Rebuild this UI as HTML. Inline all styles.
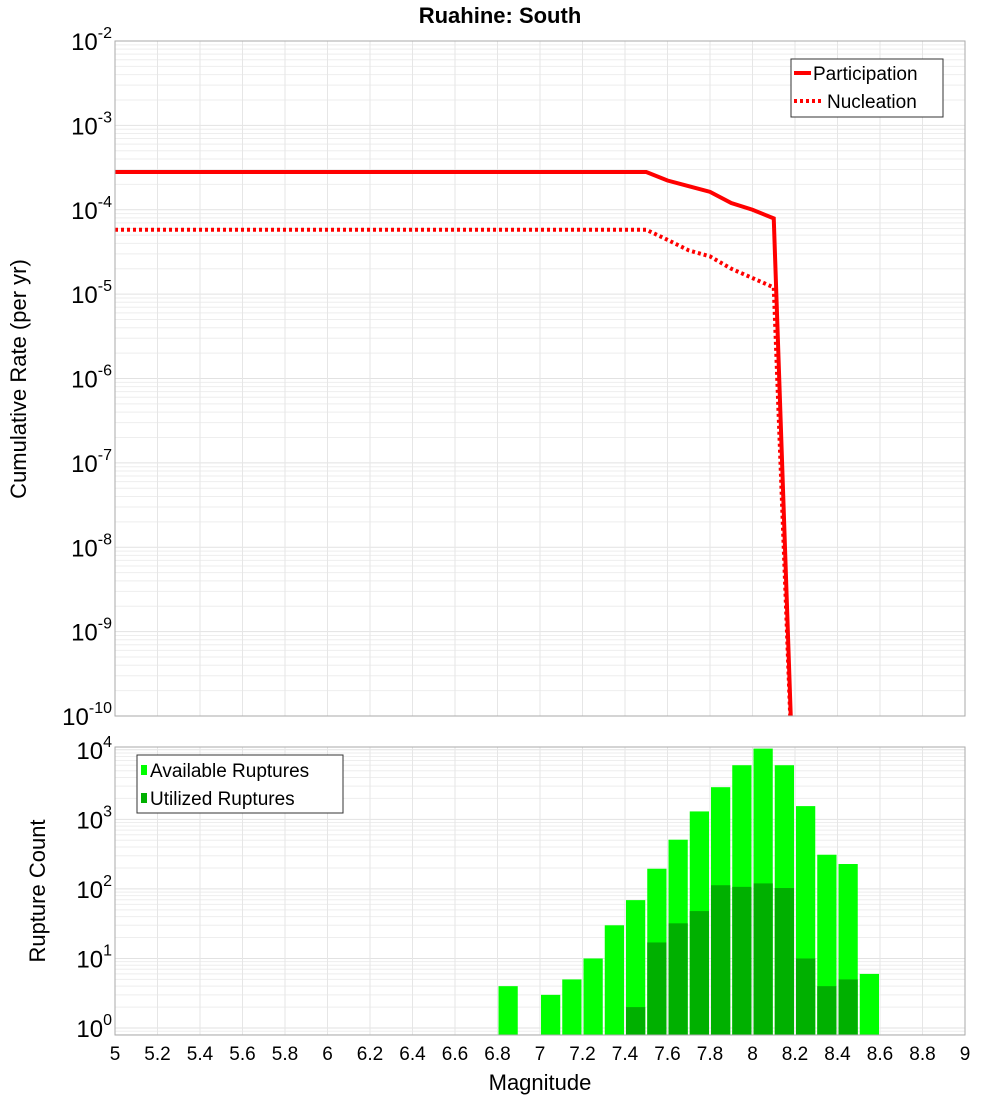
<!DOCTYPE html>
<html><head><meta charset="utf-8"><style>
body{margin:0;background:#fff;width:1000px;height:1100px;overflow:hidden}
svg{font-family:"Liberation Sans","DejaVu Sans",sans-serif}
</style></head><body>
<svg id="c" width="1000" height="1100" xmlns="http://www.w3.org/2000/svg"></svg>
<script>
const mags=[5,7.5,7.6,7.7,7.8,7.9,8.0,8.1,8.2];
const participation=[2.8e-4,2.8e-4,2.22e-4,1.9e-4,1.63e-4,1.2e-4,1.0e-4,7.9e-5,3.3e-12];
const nucleation=[5.8e-5,5.8e-5,4.4e-5,3.3e-5,2.8e-5,2.0e-5,1.55e-5,1.2e-5,3.3e-12];
const binCenters=[6.85,7.05,7.15,7.25,7.35,7.45,7.55,7.65,7.75,7.85,7.95,8.05,8.15,8.25,8.35,8.45,8.55];
const available=[4,3,5,10,30,69,195,510,1300,2900,6000,10400,6000,1550,310,228,6];
const utilized=[0,0,0,0,0,2,17,32,48,113,107,120,103,10,4,5,0];
const xTicks=["5","5.2","5.4","5.6","5.8","6","6.2","6.4","6.6","6.8","7","7.2","7.4","7.6","7.8","8","8.2","8.4","8.6","8.8","9"];

const NS="http://www.w3.org/2000/svg",svg=document.getElementById('c');
function el(t,a,p){const e=document.createElementNS(NS,t);for(const k in a)e.setAttribute(k,a[k]);(p||svg).appendChild(e);return e;}
const L=115,R=965,T1=41,B1=716,T2=747,B2=1035;
const x=m=>L+(m-5)/4*(R-L);
const y1=v=>T1+(-2-Math.log10(v))/8*(B1-T1);
const y2=v=>B2-(Math.log10(v)+0.1)/4.14*(B2-T2);

// title
let t=el('text',{x:500,y:23,'text-anchor':'middle','font-size':22,'font-weight':'bold'});t.textContent='Ruahine: South';


function grid(top,bot,yf,lo,hi){
  const g=el('g',{});
  for(let d=lo;d<hi;d++)for(let k=1;k<10;k++){const v=k*Math.pow(10,d);const yy=yf(v);if(yy<top-0.5||yy>bot+0.5)continue;
    el('line',{x1:L,x2:R,y1:yy,y2:yy,stroke:k==1?'#e2e2e2':'#eeeeee','stroke-width':1},g);}
  for(let i=0;i<=20;i++){const xx=x(5+i*0.2);el('line',{x1:xx,x2:xx,y1:top,y2:bot,stroke:'#e6e6e6'},g);}
  return g;
}
let g1=grid(T1,B1,y1,-10,-1);
let g2=grid(T2,B2,y2,-1,5);

// top lines
const clip=el('clipPath',{id:'cp'});el('rect',{x:L,y:T1,width:R-L,height:B1-T1},clip);
function line(vals,dash,name){const p=el('polyline',{points:mags.map((m,i)=>x(m)+','+y1(vals[i])).join(' '),fill:'none',stroke:'#ff0000','stroke-width':4,'clip-path':'url(#cp)'});
  if(dash)p.setAttribute('stroke-dasharray','3,3');
  }
line(nucleation,true,'nucleation-line');
line(participation,false,'participation-line');

// bars
const bw=x(5.1)-x(5);
binCenters.forEach((c,i)=>{
  const b=el('rect',{x:x(c)-bw/2+1,y:y2(available[i]),width:bw-2,height:B2-y2(available[i]),fill:'#00ff00'});
  
  if(utilized[i]>0){const u=el('rect',{x:x(c)-bw/2+1,y:y2(utilized[i]),width:bw-2,height:B2-y2(utilized[i]),fill:'#00b000'});
  }
});

// frames
let f=el('rect',{x:L,y:T1,width:R-L,height:B1-T1,fill:'none',stroke:'#aaa'});
f=el('rect',{x:L,y:T2,width:R-L,height:B2-T2,fill:'none',stroke:'#aaa'});

// y tick labels
function pow(xx,yy,e,name){const tt=el('text',{x:xx,y:yy,'text-anchor':'end','font-size':24});
  
  const a=el('tspan',{},tt);a.textContent='10';const b=el('tspan',{dy:-12,'font-size':16},tt);b.textContent=e;}
for(let d=-2;d>=-10;d--)pow(112,y1(Math.pow(10,d))+9,String(d),'top-y-tick-label');
for(let d=0;d<=4;d++)pow(112,y2(Math.pow(10,d))+9,String(d),'bottom-y-tick-label');
xTicks.forEach((s,i)=>{const tt=el('text',{x:x(5+i*0.2),y:1060,'text-anchor':'middle','font-size':19});tt.textContent=s;
  });

// axis titles
t=el('text',{x:540,y:1090,'text-anchor':'middle','font-size':22});t.textContent='Magnitude';
t=el('text',{x:0,y:0,'text-anchor':'middle','font-size':22,transform:'translate(26,379) rotate(-90)'});t.textContent='Cumulative Rate (per yr)';
t=el('text',{x:0,y:0,'text-anchor':'middle','font-size':22,transform:'translate(45,891) rotate(-90)'});t.textContent='Rupture Count';

// legends
let lg=el('g',{});
el('rect',{x:791,y:59,width:152,height:58,fill:'#fff',stroke:'#333'},lg);
el('line',{x1:794,x2:811,y1:73,y2:73,stroke:'#f00','stroke-width':4},lg);
el('line',{x1:794,x2:822,y1:101,y2:101,stroke:'#f00','stroke-width':4,'stroke-dasharray':'3,3'},lg);
t=el('text',{x:813,y:80,'font-size':19},lg);t.textContent='Participation';
t=el('text',{x:827,y:108,'font-size':19},lg);t.textContent='Nucleation';
lg=el('g',{});
el('rect',{x:137,y:755,width:206,height:58,fill:'#fff',stroke:'#333'},lg);
el('rect',{x:141,y:765,width:6,height:10,fill:'#00ff00'},lg);
el('rect',{x:141,y:793,width:6,height:10,fill:'#00b000'},lg);
t=el('text',{x:150,y:777,'font-size':19},lg);t.textContent='Available Ruptures';
t=el('text',{x:150,y:805,'font-size':19},lg);t.textContent='Utilized Ruptures';
</script>
</body></html>
